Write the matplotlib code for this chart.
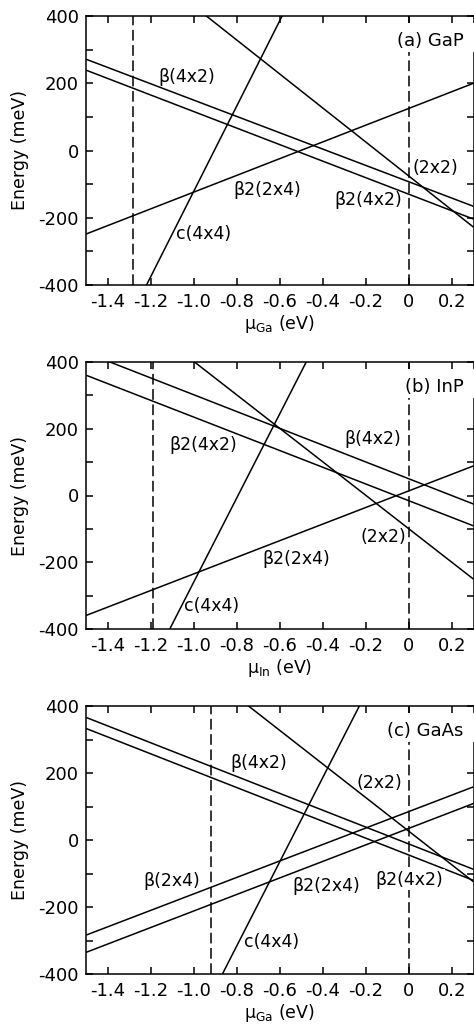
import matplotlib
matplotlib.use("Agg")
import matplotlib.pyplot as plt
from matplotlib.patches import Rectangle

plt.rcParams["font.family"] = ["DejaVu Sans"]
plt.rcParams["mathtext.default"] = "regular"

# chemical-potential window of every panel
MU_MIN, MU_MAX = -1.5, 0.3

# surface energies (meV) at mu = MU_MIN and mu = MU_MAX for each reconstruction
gap_names = ["β(4x2)", "β2(4x2)", "(2x2)", "β2(2x4)", "c(4x4)"]
gap_e_left = [271.5, 239, 683, -248.5, -757]
gap_e_right = [-166, -204, -228, 200, 1529]

inp_names = ["β(4x2)", "β2(4x2)", "(2x2)", "β2(2x4)", "c(4x4)"]
inp_e_left = [428, 360.5, 653, -359.5, -891]
inp_e_right = [-25.6, -91, -250.6, 88.7, 1380.6]

gaas_names = ["β(4x2)", "β2(4x2)", "(2x2)", "β(2x4)", "β2(2x4)", "c(4x4)"]
gaas_e_left = [366, 333, 779, -284, -335.5, -1197]
gaas_e_right = [-87.6, -120.6, -124.6, 158.8, 109, 1067]

# lower bound of the cation chemical potential (dashed) and the bulk limit at 0
gap_bounds = [-1.28, 0.0]
inp_bounds = [-1.19, 0.0]
gaas_bounds = [-0.92, 0.0]

# label text, position (mu, meV), white backing
gap_labels = [("β(4x2)", -1.034, 219, False), ("β2(2x4)", -0.656, -116, False),
              ("c(4x4)", -0.954, -247, False), ("(2x2)", 0.124, -53, False),
              ("β2(4x2)", -0.188, -148, False)]
inp_labels = [("β2(4x2)", -0.957, 152, False), ("β(4x2)", -0.167, 169, False),
              ("(2x2)", -0.120, -125, False), ("β2(2x4)", -0.525, -189, False),
              ("c(4x4)", -0.918, -331, False)]
gaas_labels = [("β(4x2)", -0.699, 231, False), ("(2x2)", -0.139, 169, False),
               ("β(2x4)", -1.103, -121, False), ("β2(2x4)", -0.386, -137, False),
               ("β2(4x2)", 0.003, -119, True), ("c(4x4)", -0.636, -303, False)]

panels = [
    ("(a) GaP", "Ga", gap_e_left, gap_e_right, gap_bounds, gap_labels, 0.790),
    ("(b) InP", "In", inp_e_left, inp_e_right, inp_bounds, inp_labels, 0.805),
    ("(c) GaAs", "Ga", gaas_e_left, gaas_e_right, gaas_bounds, gaas_labels, 0.760),
]

W, H = 474, 1029
fig = plt.figure(figsize=(W / 100, H / 100), dpi=100)

# axes boxes in pixels: (top, bottom)
boxes = [(16, 285), (362, 629), (706, 974)]
left_px, right_px = 86, 473.5

for (title, elem, e_left, e_right, bounds, labels, box_x), (top, bot) in zip(panels, boxes):
    ax = fig.add_axes([left_px / W, 1 - bot / H, (right_px - left_px) / W, (bot - top) / H])
    for el, er in zip(e_left, e_right):
        ax.plot([MU_MIN, MU_MAX], [el, er], color="black", lw=1.1, solid_capstyle="butt")
    for b in bounds:
        ax.axvline(b, color="black", lw=1.1, dashes=(7, 3))
    for txt, x, y, backed in labels:
        bbox = dict(facecolor="white", edgecolor="none", pad=1.0) if backed else None
        ax.text(x, y, txt, ha="center", va="center", fontsize=12.5, zorder=5, bbox=bbox)

    # white backing behind the panel title
    ax.add_patch(Rectangle((box_x, 0.865), 1.05 - box_x, 0.108, transform=ax.transAxes,
                           facecolor="white", edgecolor="none", zorder=3, clip_on=False))
    ax.text(0.975, 0.906, title, transform=ax.transAxes, ha="right", va="center",
            fontsize=13, zorder=5)

    ax.set_xlim(MU_MIN, MU_MAX)
    ax.set_ylim(-400, 400)
    ax.set_xticks([-1.4, -1.2, -1.0, -0.8, -0.6, -0.4, -0.2, 0, 0.2])
    ax.set_xticklabels(["-1.4", "-1.2", "-1.0", "-0.8", "-0.6", "-0.4", "-0.2", "0", "0.2"])
    ax.set_yticks([-400, -300, -200, -100, 0, 100, 200, 300, 400])
    ax.set_yticklabels(["-400", "", "-200", "", "0", "", "200", "", "400"])
    ax.tick_params(direction="in", length=5, width=1.1, top=True, right=True,
                   labelsize=13)
    ax.tick_params(axis="x", pad=6)
    ax.tick_params(axis="y", pad=5)
    for s in ax.spines.values():
        s.set_linewidth(1.1)
    ax.set_ylabel("Energy (meV)", fontsize=12.5)
    ax.set_xlabel(r"$\mu_{%s}$ (eV)" % elem, fontsize=12.5, labelpad=1)
    ax.yaxis.set_label_coords((29 - left_px) / (right_px - left_px), 0.5)

fig.savefig("out.png", dpi=100)
